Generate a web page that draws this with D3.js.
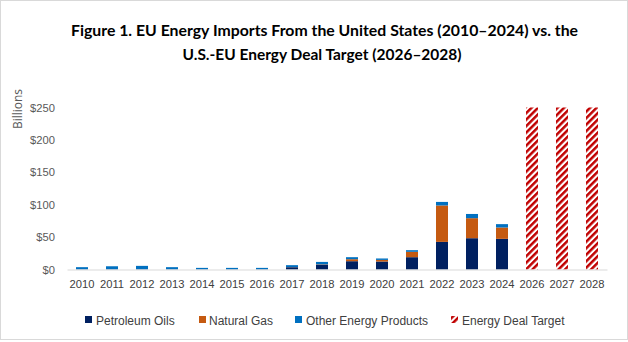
<!DOCTYPE html>
<html>
<head>
<meta charset="utf-8">
<script src="https://cdn.jsdelivr.net/npm/d3@7"></script>
<style>
  html, body { margin: 0; padding: 0; background: #fff; }
  svg { display: block; }
</style>
</head>
<body>
<svg id="chart" width="628" height="342"></svg>
<script>
// ---- Data (US$ billions) ----
const years = ["2010","2011","2012","2013","2014","2015","2016","2017","2018","2019","2020","2021","2022","2023","2024","2026","2027","2028"];
const histYears = ["2010","2011","2012","2013","2014","2015","2016","2017","2018","2019","2020","2021","2022","2023","2024"];
const petroleumOils = [0.3, 0.4, 0.4, 0.3, 0.3, 0.3, 0.4, 3.5, 7.5, 12.8, 12.3, 19.0, 42.6, 48.3, 47.3];
const naturalGas    = [0, 0, 0, 0, 0, 0, 0, 0.2, 0.5, 3.1, 2.5, 8.3, 56.2, 30.9, 17.5];
const otherEnergy   = [3.3, 4.6, 5.2, 3.3, 2.2, 2.2, 2.1, 3.0, 3.7, 3.1, 2.2, 2.5, 5.5, 6.5, 5.2];
const targetYears = ["2026","2027","2028"];
const dealTarget = [250, 250, 250];
const yTicks = [0, 50, 100, 150, 200, 250];
const seriesNames = ["Petroleum Oils", "Natural Gas", "Other Energy Products"];
const seriesKeys = ["petroleum", "gas", "other"];
const seriesColors = ["#002060", "#C55A11", "#0070C0"];
const targetName = "Energy Deal Target";
const titleLines = ["Figure 1. EU Energy Imports From the United States (2010\u20132024) vs. the",
                    "U.S.-EU Energy Deal Target (2026\u20132028)"];

const svg = d3.select("#chart");
const W = 628, H = 342;
const plot = {left: 67, right: 607, top: 107.5, bottom: 269.5};

// border
svg.append("rect").attr("x", 0.5).attr("y", 0.5).attr("width", W - 1).attr("height", H - 3)
  .attr("fill", "#fff").attr("stroke", "#d9d9d9").attr("stroke-width", 1);

// pattern
const defs = svg.append("defs");
const pat = defs.append("pattern").attr("id", "hatch")
  .attr("patternUnits", "userSpaceOnUse").attr("width", 4.6).attr("height", 4.6)
  .attr("patternTransform", "rotate(45)");
pat.append("rect").attr("width", 4.6).attr("height", 4.6).attr("fill", "#fff");
pat.append("rect").attr("width", 2.5).attr("height", 4.6).attr("fill", "#C00000");

// title
const titleWidths = [507, 279];
svg.append("g").selectAll("text").data(titleLines).join("text")
  .attr("x", (d, i) => i === 0 ? 324.5 : 322)
  .attr("y", (d, i) => i === 0 ? 36 : 60)
  .attr("text-anchor", "middle")
  .attr("font-family", "Lato, 'Open Sans', sans-serif")
  .attr("font-weight", "bold")
  .attr("font-size", 16)
  .attr("fill", "#000")
  .attr("textLength", (d, i) => titleWidths[i])
  .attr("lengthAdjust", "spacingAndGlyphs")
  .text(d => d);

// scales
const x = d3.scaleBand().domain(years).range([plot.left, plot.right]).paddingInner(0.6).paddingOuter(0.3);
const y = d3.scaleLinear().domain([0, 250]).range([plot.bottom, plot.top]);

// y axis
const yAxis = d3.axisLeft(y).tickValues(yTicks).tickFormat(d => "$" + d).tickSize(0).tickPadding(12);
const gy = svg.append("g").attr("transform", `translate(${plot.left},0)`).call(yAxis);
gy.select(".domain").remove();
gy.selectAll("text").attr("font-family", "'Liberation Sans', Arial, sans-serif")
  .attr("font-size", 11.2).attr("fill", "#595959");

// y axis title
svg.append("text").attr("transform", "translate(22,109) rotate(-90)")
  .attr("text-anchor", "middle")
  .attr("font-family", "'Open Sans', 'Liberation Sans', sans-serif")
  .attr("font-size", 12).attr("fill", "#595959").text("Billions");

// stacked bars
const rows = histYears.map((yr, i) => ({year: yr, petroleum: petroleumOils[i], gas: naturalGas[i], other: otherEnergy[i]}));
const stacked = d3.stack().keys(seriesKeys)(rows);
svg.append("g").selectAll("g").data(stacked).join("g")
  .attr("fill", (d, i) => seriesColors[i])
  .selectAll("rect").data(d => d).join("rect")
  .attr("x", d => x(d.data.year))
  .attr("width", x.bandwidth())
  .attr("y", d => y(d[1]))
  .attr("height", d => Math.max(0, y(d[0]) - y(d[1])));

// target bars
svg.append("g").selectAll("rect").data(targetYears.map((yr, i) => ({year: yr, v: dealTarget[i]}))).join("rect")
  .attr("x", d => x(d.year))
  .attr("width", x.bandwidth())
  .attr("y", d => y(d.v))
  .attr("height", d => y(0) - y(d.v))
  .attr("fill", "url(#hatch)");

// x axis
const xAxis = d3.axisBottom(x).tickSize(0).tickPadding(11);
const gx = svg.append("g").attr("transform", `translate(0,${plot.bottom})`).call(xAxis);
gx.select(".domain").attr("stroke", "#d9d9d9").attr("stroke-width", 1);
gx.selectAll("text").attr("font-family", "'Liberation Sans', Arial, sans-serif")
  .attr("font-size", 11.2).attr("fill", "#404040");

// legend
const legendItems = [
  {name: seriesNames[0], fill: seriesColors[0], sx: 85, tx: 96},
  {name: seriesNames[1], fill: seriesColors[1], sx: 199, tx: 209},
  {name: seriesNames[2], fill: seriesColors[2], sx: 295, tx: 306},
  {name: targetName, fill: "url(#hatch)", sx: 451, tx: 462}
];
const lg = svg.append("g").selectAll("g").data(legendItems).join("g");
lg.append("rect").attr("x", d => d.sx).attr("y", 316).attr("width", 7).attr("height", 7)
  .attr("fill", d => d.fill);
lg.append("text").attr("x", d => d.tx).attr("y", 324.5)
  .attr("font-family", "'Liberation Sans', Arial, sans-serif")
  .attr("font-size", 12).attr("fill", "#404040").text(d => d.name);
</script>
</body>
</html>
